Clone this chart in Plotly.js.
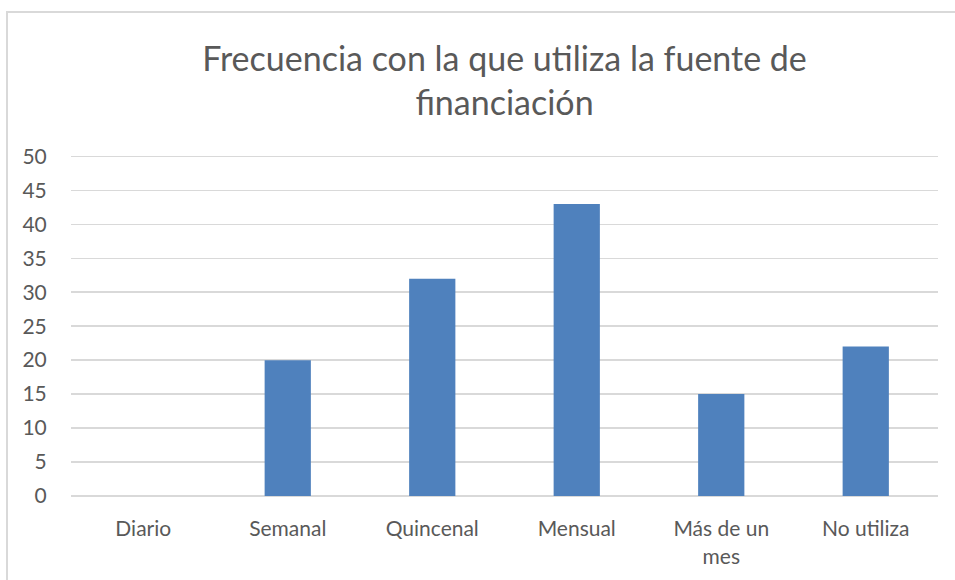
<!DOCTYPE html>
<html>
<head>
<meta charset="utf-8">
<script src="https://cdn.plot.ly/plotly-3.0.1.min.js"></script>
<style>
  html, body { margin: 0; padding: 0; background: #ffffff; }
  #wrap { position: relative; width: 955px; height: 580px; overflow: hidden; }
  #frame { position: absolute; left: 6px; top: 11px; width: 960px; height: 580px;
           border-left: 2px solid #d9d9d9; border-top: 2px solid #d9d9d9; box-sizing: border-box; }
  #chart { position: absolute; left: 0; top: 0; width: 955px; height: 580px; }
</style>
</head>
<body>
<div id="wrap">
  <div id="frame"></div>
  <div id="chart"></div>
</div>
<script>
const categories = ["Diario", "Semanal", "Quincenal", "Mensual", "Más de un<br>mes", "No utiliza"];
const values = [0, 20, 32, 43, 15, 22];
const yTicks = [0, 5, 10, 15, 20, 25, 30, 35, 40, 45, 50];
const chartTitle = "Frecuencia con la que utiliza la fuente de<br>financiación";

const trace = {
  type: "bar",
  x: categories,
  y: values,
  marker: { color: "#4f81bd" },
  hoverinfo: "x+y"
};

const layout = {
  width: 955,
  height: 580,
  paper_bgcolor: "rgba(0,0,0,0)",
  plot_bgcolor: "rgba(0,0,0,0)",
  margin: { l: 71, r: 17, t: 155, b: 84 },
  bargap: 0.68,
  showlegend: false,
  font: { family: "Lato, Open Sans, sans-serif", color: "#595959" },
  title: {
    text: chartTitle,
    font: { family: "Lato, Open Sans, sans-serif", size: 34, color: "#595959" },
    x: 0.5, xref: "paper", xanchor: "center",
    y: 1 - 71 / 580, yref: "container", yanchor: "middle"
  },
  xaxis: {
    type: "category",
    tickfont: { size: 21, color: "#595959" },
    showgrid: false,
    showline: false,
    ticks: "outside",
    ticklen: 14,
    tickcolor: "rgba(0,0,0,0)",
    fixedrange: true
  },
  yaxis: {
    range: [0, 50.2],
    tickvals: yTicks,
    ticktext: yTicks.map(String),
    tickfont: { size: 21, color: "#595959" },
    showgrid: true,
    gridcolor: "#d9d9d9",
    gridwidth: 1.5,
    zeroline: true,
    zerolinecolor: "#d9d9d9",
    zerolinewidth: 1.5,
    showline: false,
    ticks: "outside",
    ticklen: 19,
    tickcolor: "rgba(0,0,0,0)",
    fixedrange: true
  }
};

Plotly.newPlot("chart", [trace], layout, { displayModeBar: false, staticPlot: true });
</script>
</body>
</html>
